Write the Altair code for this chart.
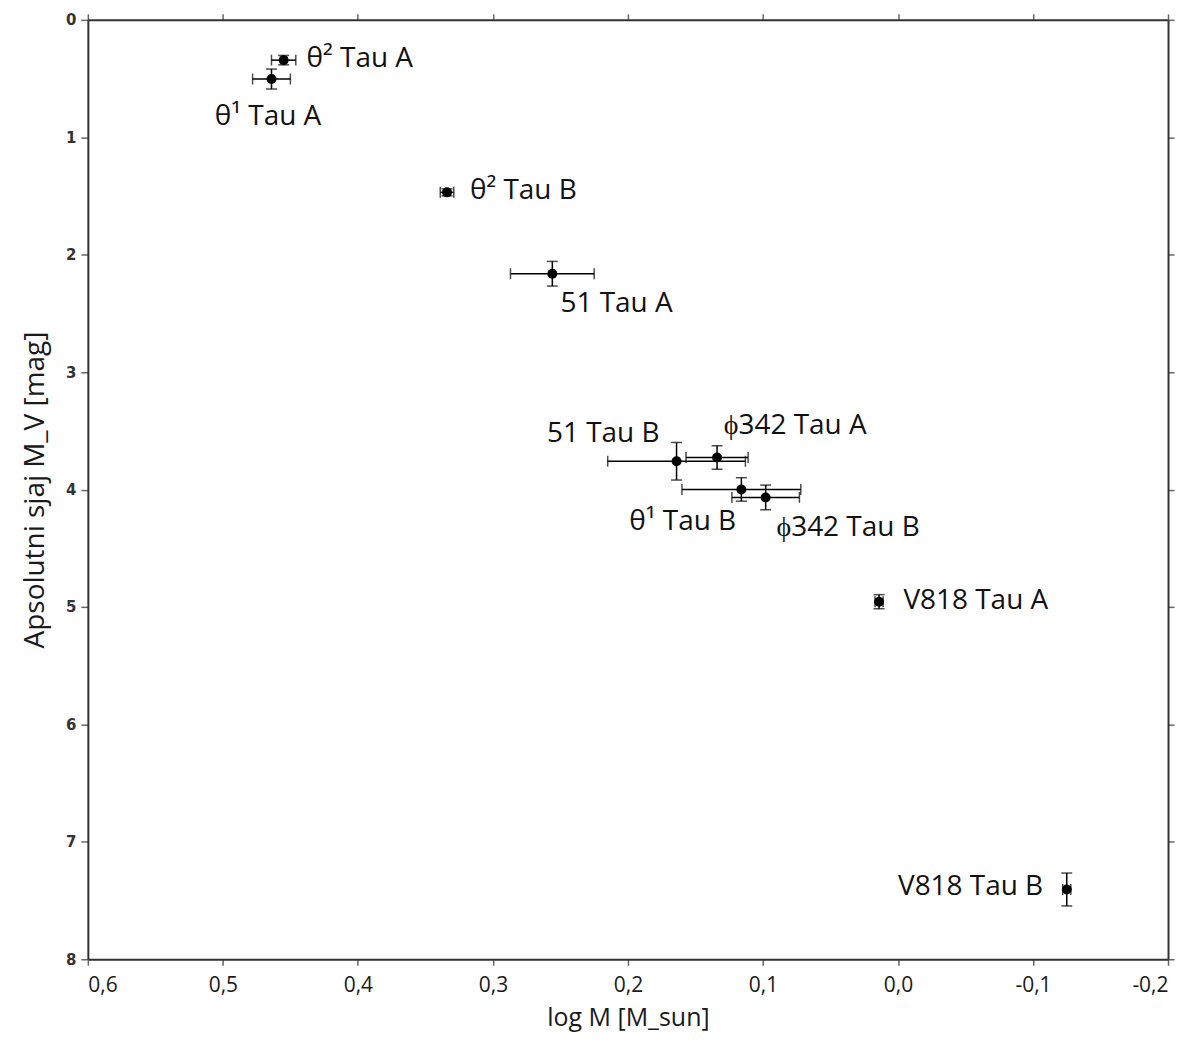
import altair as alt
import pandas as pd

names = ["θ² Tau A", "θ¹ Tau A", "θ² Tau B", "51 Tau A", "51 Tau B",
         "ϕ342 Tau A", "θ¹ Tau B", "ϕ342 Tau B", "V818 Tau A", "V818 Tau B"]
logm = [0.455, 0.464, 0.334, 0.256, 0.164, 0.134, 0.116, 0.098, 0.014, -0.125]
mv = [0.343, 0.504, 1.469, 2.162, 3.759, 3.727, 3.999, 4.067, 4.955, 7.406]
logm_err = [0.009, 0.014, 0.005, 0.031, 0.051, 0.023, 0.044, 0.025, 0.003, 0.003]
mv_err = [0.04, 0.085, 0.03, 0.105, 0.16, 0.10, 0.10, 0.105, 0.06, 0.14]
label_x = [0.438, 0.506, 0.317, 0.250, 0.260, 0.129, 0.199, 0.090, -0.004, 0.000]
label_y = [0.332, 0.825, 1.454, 2.423, 3.529, 3.461, 4.277, 4.328, 4.949, 7.389]

x_ticks = [0.6, 0.5, 0.4, 0.3, 0.2, 0.1, 0.0, -0.1, -0.2]
y_ticks = [0, 1, 2, 3, 4, 5, 6, 7, 8]

df = pd.DataFrame({
    "name": names, "logm": logm, "mv": mv,
    "xlo": [a - e for a, e in zip(logm, logm_err)],
    "xhi": [a + e for a, e in zip(logm, logm_err)],
    "ylo": [a - e for a, e in zip(mv, mv_err)],
    "yhi": [a + e for a, e in zip(mv, mv_err)],
    "lx": label_x, "ly": label_y,
})

xscale = alt.Scale(domain=[-0.2, 0.6], reverse=True, nice=False, zero=False)
yscale = alt.Scale(domain=[0, 8], reverse=True, nice=False, zero=False)

label_expr = "replace(replace(format(datum.value, '.1f'), '.', ','), '\u2212', '-')"

xaxis = alt.Axis(values=x_ticks, labelExpr=label_expr, title="log M [M_sun]",
                 orient="bottom", grid=False, domainColor="#333", domainWidth=2,
                 tickColor="#666", tickWidth=1.5, tickSize=6,
                 labelFont="Open Sans", labelFontSize=21, labelColor="#1a1a1a",
                 labelPadding=9, titleFont="Open Sans", titleFontSize=25,
                 titleFontWeight="normal", titleColor="#1a1a1a", titlePadding=10)
yaxis = alt.Axis(values=y_ticks, format="d", title="Apsolutni sjaj M_V [mag]",
                 orient="left", grid=False, domainColor="#333", domainWidth=2,
                 tickColor="#666", tickWidth=1.5, tickSize=7,
                 labelFont="DejaVu Sans", labelFontSize=15, labelFontWeight="bold",
                 labelColor="#333", labelPadding=5,
                 titleFont="Open Sans", titleFontSize=28, titleFontWeight="normal",
                 titleColor="#1a1a1a", titlePadding=16)

base = alt.Chart(df)

xerr = base.mark_rule(color="black", strokeWidth=1.5).encode(
    x=alt.X("xlo:Q", scale=xscale, axis=xaxis),
    x2="xhi:Q",
    y=alt.Y("mv:Q", scale=yscale, axis=yaxis),
)
yerr = base.mark_rule(color="black", strokeWidth=1.5).encode(
    x=alt.X("logm:Q", axis=None), y=alt.Y("ylo:Q", axis=None), y2="yhi:Q")

xcaps = base.transform_fold(["xlo", "xhi"], as_=["end", "xv"]).mark_tick(
    orient="vertical", size=11, thickness=1.5, color="black").encode(
    x=alt.X("xv:Q", axis=None), y=alt.Y("mv:Q", axis=None))
ycaps = base.transform_fold(["ylo", "yhi"], as_=["end", "yv"]).mark_tick(
    orient="horizontal", size=11, thickness=1.5, color="black").encode(
    x=alt.X("logm:Q", axis=None), y=alt.Y("yv:Q", axis=None))

pts = base.mark_point(filled=True, size=100, color="black", opacity=1).encode(
    x=alt.X("logm:Q", axis=None), y=alt.Y("mv:Q", axis=None))

labels = base.mark_text(align="left", baseline="middle", font="Open Sans",
                        fontSize=28, color="#111").encode(
    x=alt.X("lx:Q", axis=None), y=alt.Y("ly:Q", axis=None), text="name:N")

xaxis2 = alt.Axis(values=x_ticks, orient="top", labels=False, title=None, grid=False,
                  domainColor="#333", domainWidth=2, tickColor="#666", tickWidth=1.5,
                  tickSize=6)
yaxis2 = alt.Axis(values=y_ticks, orient="right", labels=False, title=None, grid=False,
                  domainColor="#333", domainWidth=2, tickColor="#666", tickWidth=1.5,
                  tickSize=6)
frame = base.mark_point(opacity=0).encode(
    x=alt.X("logm:Q", scale=xscale, axis=xaxis2),
    y=alt.Y("mv:Q", scale=yscale, axis=yaxis2))

chart = alt.layer(xerr, yerr, xcaps, ycaps, pts, labels, frame).resolve_axis(
    x="independent", y="independent"
).properties(
    width=1082, height=941,
    autosize=alt.AutoSizeParams(type="none"),
    padding={"left": 80, "top": 11, "right": 14, "bottom": 78},
).configure_view(stroke=None).configure(background="white")

chart.save("out.html", embed_options={"renderer": "svg", "actions": False})
